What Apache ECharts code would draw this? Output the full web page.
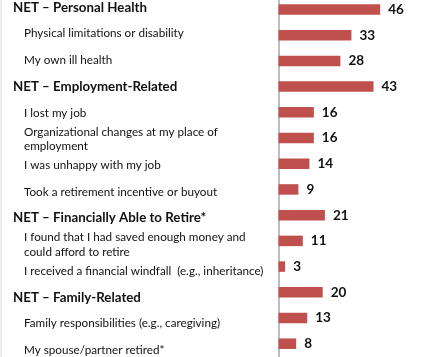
<!DOCTYPE html>
<html><head><meta charset="utf-8">
<script src="https://cdn.jsdelivr.net/npm/echarts@6/dist/echarts.min.js"></script>
<style>html,body{margin:0;padding:0;background:#fff}#c{width:429px;height:357px}</style>
</head><body><div id="c"></div>
<script>
var categories = [
  "NET – Personal Health",
  "Physical limitations or disability",
  "My own ill health",
  "NET – Employment-Related",
  "I lost my job",
  "Organizational changes at my place of\nemployment",
  "I was unhappy with my job",
  "Took a retirement incentive or buyout",
  "NET – Financially Able to Retire*",
  "I found that I had saved enough money and\ncould afford to retire",
  "I received a financial windfall  (e.g., inheritance)",
  "NET – Family-Related",
  "Family responsibilities (e.g., caregiving)",
  "My spouse/partner retired*"
];
var values = [46, 33, 28, 43, 16, 16, 14, 9, 21, 11, 3, 20, 13, 8];
var isNet = [true, false, false, true, false, false, false, false, true, false, false, true, false, false];

var chart = echarts.init(document.getElementById('c'));
chart.setOption({
  animation: false,
  backgroundColor: '#ffffff',
  graphic: [{type: 'rect', shape: {x: 0, y: 0, width: 2, height: 357}, style: {fill: '#ececec'}}],
  grid: [
    {left: 278.5, right: 17.9, top: 9.5, bottom: 13.3},
    {left: 13, width: 5, top: 7.3, bottom: 7},
    {left: 278.5, width: 5, top: 0, bottom: 0}
  ],
  xAxis: [
    {gridIndex: 0, type: 'value', min: 0, max: 60, show: false},
    {gridIndex: 1, type: 'value', min: 0, max: 1, show: false},
    {gridIndex: 2, type: 'value', min: 0, max: 1, show: false}
  ],
  yAxis: [
    {gridIndex: 0, type: 'category', data: categories, inverse: true, boundaryGap: false,
     axisLine: {show: false}, axisTick: {show: false}, axisLabel: {show: false}, splitLine: {show: false}},
    {gridIndex: 1, type: 'category', data: categories, inverse: true, boundaryGap: false,
     axisLine: {show: false}, axisTick: {show: false}, splitLine: {show: false},
     axisLabel: {
       show: true, align: 'left', margin: 0, interval: 0,
       formatter: function (v, i) {
         var lines = v.split('\n');
         var tag = isNet[i] ? 'h' : 's';
         return lines.map(function (l) { return '{' + tag + '|' + l + '}'; }).join('\n');
       },
       rich: {
         h: {fontFamily: 'Lato', fontWeight: 'bold', fontSize: 13.3, color: '#111', lineHeight: 16},
         s: {fontFamily: 'Lato', fontSize: 11.7, color: '#111', lineHeight: 14.5, padding: [0, 0, 0, 11]}
       }
     }},
    {gridIndex: 2, type: 'category', data: categories, inverse: true,
     axisLine: {show: true, lineStyle: {color: '#bdbdbd', width: 2}},
     axisTick: {show: false}, axisLabel: {show: false}, splitLine: {show: false}}
  ],
  series: [
    {type: 'bar', xAxisIndex: 0, yAxisIndex: 0, data: values, barWidth: 10.5, clip: false,
     itemStyle: {color: '#c0504d'},
     label: {show: true, position: 'right', distance: 8, fontFamily: 'Lato', fontWeight: 'bold',
             fontSize: 13.5, color: '#111'}},
    {type: 'bar', xAxisIndex: 1, yAxisIndex: 1, data: [], silent: true},
    {type: 'bar', xAxisIndex: 2, yAxisIndex: 2, data: [], silent: true}
  ]
});
</script></body></html>
